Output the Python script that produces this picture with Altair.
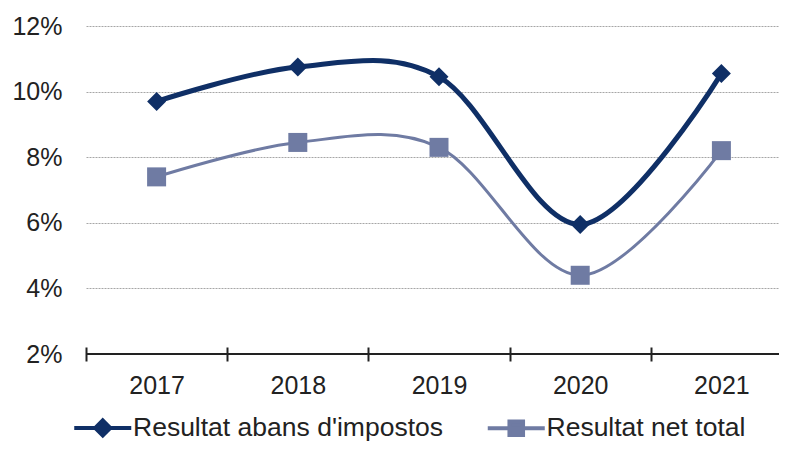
import altair as alt
import pandas as pd

years = ["2017", "2018", "2019", "2020", "2021"]
pre_tax = [9.7, 10.75, 10.45, 5.95, 10.55]
net_total = [7.4, 8.45, 8.3, 4.4, 8.2]
series_names = ["Resultat abans d'impostos", "Resultat net total"]
y_ticks = [2, 4, 6, 8, 10, 12]

rows = []
for name, vals in zip(series_names, [pre_tax, net_total]):
    for yr, v in zip(years, vals):
        rows.append({"year": yr, "value": v, "series": name})
df = pd.DataFrame(rows)

DARK = "#0F2F66"
LIGHT = "#6F7BA3"
TXT = "#222222"
FONT = "Liberation Sans"

x_axis = alt.Axis(title=None, domain=False, tickBand="extent", tickSize=14, tickWidth=2,
                  tickColor=TXT, offset=-7, labelPadding=12, labelFontSize=25, labelFont=FONT,
                  labelColor=TXT, labelAngle=0, grid=False)
y_axis = alt.Axis(title=None, values=y_ticks, labelExpr="datum.value + '%'", domain=False,
                  ticks=False, tickSize=0, labelPadding=24, labelFontSize=25, labelFont=FONT,
                  labelColor=TXT, grid=True, gridDash=[2, 1], gridColor="#a6a6a6", gridWidth=1)

# plot area is clipped at the window edge; the band scale runs a little past it, as in the original
x = alt.X("year:N", sort=years,
          scale=alt.Scale(type="band", paddingInner=0, paddingOuter=0, range=[0, 706]), axis=x_axis)
y = alt.Y("value:Q", scale=alt.Scale(domain=[2, 12], nice=False, zero=False), axis=y_axis)

rule = alt.Chart(df).mark_rule(color=TXT, strokeWidth=2).encode(
    y=alt.YDatum(2, scale=alt.Scale(domain=[2, 12], nice=False, zero=False), axis=y_axis)
)

styles = {
    series_names[0]: dict(color=DARK, width=5, shape="diamond"),
    series_names[1]: dict(color=LIGHT, width=3, shape="square"),
}

layers = [rule]
for name in series_names:
    s = styles[name]
    layers.append(
        alt.Chart(df).transform_filter(alt.datum.series == name)
        .mark_line(color=s["color"], strokeWidth=s["width"], interpolate="cardinal")
        .encode(x=x, y=y)
    )
for name in series_names:
    s = styles[name]
    layers.append(
        alt.Chart(df).transform_filter(alt.datum.series == name)
        .mark_point(filled=True, shape=s["shape"], size=361, color=s["color"], opacity=1, strokeWidth=0)
        .encode(x=x, y=y)
    )

diamond_leg = "M-2.85,0L2.85,0M0,-0.75L0.75,0L0,0.75L-0.75,0Z"
square_leg = "M-2.85,0L2.85,0M-0.68,-0.68L0.68,-0.68L0.68,0.68L-0.68,0.68Z"

leg = alt.Legend(title=None, orient="none", legendX=3.5, legendY=388.5, direction="horizontal",
                 columns=2, labelFontSize=26.5, labelFont=FONT, labelColor=TXT, symbolSize=400,
                 symbolStrokeWidth=4, labelOffset=17, columnPadding=35.5, padding=0,
                 symbolOpacity=1, labelLimit=0)

legend_layer = (
    alt.Chart(df).transform_filter("false")
    .mark_point(filled=True, opacity=1)
    .encode(
        shape=alt.Shape("series:N", scale=alt.Scale(domain=series_names, range=[diamond_leg, square_leg]), legend=leg),
        fill=alt.Fill("series:N", scale=alt.Scale(domain=series_names, range=[DARK, LIGHT]), legend=leg),
        stroke=alt.Stroke("series:N", scale=alt.Scale(domain=series_names, range=[DARK, LIGHT]), legend=leg),
    )
)
layers.append(legend_layer)

chart = (
    alt.layer(*layers)
    .properties(width=693, height=328, autosize=alt.AutoSizeParams(type="none"),
                padding={"left": 78, "top": 18, "right": 0, "bottom": 88})
    .configure_view(stroke=None)
)

chart.save("out.html", embed_options={"renderer": "svg", "actions": False})
